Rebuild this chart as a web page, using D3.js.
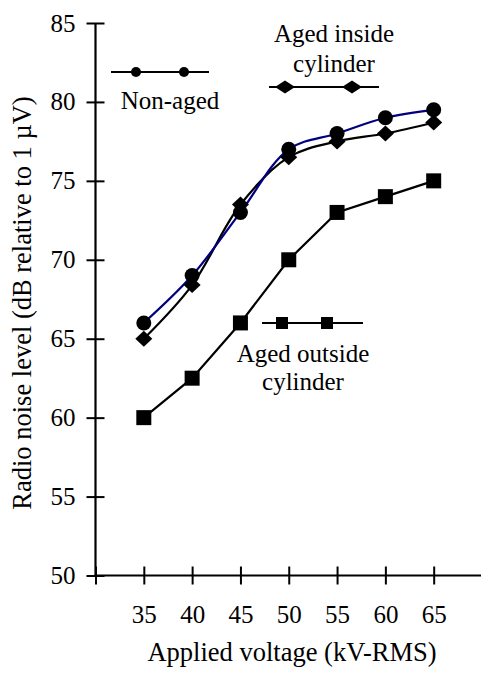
<!DOCTYPE html>
<html>
<head>
<meta charset="utf-8">
<script src="https://cdn.jsdelivr.net/npm/d3@7"></script>
<style>
  html, body { margin: 0; padding: 0; background: #fff; }
</style>
</head>
<body>
<svg id="chart"></svg>
<script>
let WIDTH = 481;
let HEIGHT = 675;
let FONT = "'Liberation Serif', 'Times New Roman', Times, 'DejaVu Serif', serif";

// applied voltage, kV-RMS
let voltage = [35, 40, 45, 50, 55, 60, 65];
// radio noise level, dB relative to 1 uV
let nonAged = [66, 69, 73, 77, 78, 79, 79.5];
let agedInside = [65, 68.4, 73.5, 76.5, 77.5, 78, 78.7];
let agedOutside = [60, 62.5, 66, 70, 73, 74, 75];

let xTicks = [30, 35, 40, 45, 50, 55, 60, 65, 70];
let xLabels = [35, 40, 45, 50, 55, 60, 65];
let yTicks = [50, 55, 60, 65, 70, 75, 80, 85];

let svg = d3.select('#chart')
  .attr('width', WIDTH)
  .attr('height', HEIGHT)
  .style('font-family', FONT);

let xScale = d3.scaleLinear().domain([30, 70]).range([95.5, 482]);
let yScale = d3.scaleLinear().domain([50, 85]).range([575.5, 23]);

// axes, ticks cross the line on both sides
let leftAxis = d3.axisLeft(yScale)
  .tickValues(yTicks)
  .tickSizeInner(9)
  .tickSizeOuter(0)
  .tickPadding(11);

let gy = svg.append('g')
  .attr('transform', 'translate(' + xScale(30) + ',0)')
  .call(leftAxis)
  .attr('font-family', null)
  .attr('font-size', null);
gy.select('.domain').remove();
gy.selectAll('.tick line').attr('x1', 9).attr('x2', -9).attr('stroke', '#000').attr('stroke-width', 2);
gy.selectAll('.tick text').style('font-family', FONT).style('font-size', '25px').attr('fill', '#000');

let bottomAxis = d3.axisBottom(xScale)
  .tickValues(xTicks)
  .tickSizeInner(9)
  .tickSizeOuter(0)
  .tickPadding(21)
  .tickFormat(function (d) { return xLabels.indexOf(d) >= 0 ? d : ''; });

let gx = svg.append('g')
  .attr('transform', 'translate(0,' + yScale(50) + ')')
  .call(bottomAxis)
  .attr('font-family', null)
  .attr('font-size', null);
gx.select('.domain').remove();
gx.selectAll('.tick line').attr('y1', -9).attr('y2', 9).attr('stroke', '#000').attr('stroke-width', 2);
gx.selectAll('.tick text').style('font-family', FONT).style('font-size', '25px').attr('fill', '#000');

svg.append('line')
  .attr('x1', xScale(30)).attr('x2', xScale(30))
  .attr('y1', yScale(85)).attr('y2', yScale(50) + 1)
  .attr('stroke', '#000').attr('stroke-width', 2.2);
svg.append('line')
  .attr('x1', xScale(30) - 1).attr('x2', xScale(70))
  .attr('y1', yScale(50)).attr('y2', yScale(50))
  .attr('stroke', '#000').attr('stroke-width', 2.2);

// axis titles
svg.append('text')
  .attr('x', 292)
  .attr('y', 661)
  .attr('text-anchor', 'middle')
  .style('font-family', FONT)
  .style('font-size', '26.5px')
  .text('Applied voltage (kV-RMS)');

svg.append('text')
  .attr('transform', 'translate(31,303) rotate(-90)')
  .attr('text-anchor', 'middle')
  .style('font-family', FONT)
  .style('font-size', '26.5px')
  .text('Radio noise level (dB relative to 1 \u00b5V)');

// series
let pts = function (vals) {
  return voltage.map(function (v, i) { return [v, vals[i]]; });
};

let smooth = d3.line()
  .x(function (d) { return xScale(d[0]); })
  .y(function (d) { return yScale(d[1]); })
  .curve(d3.curveCatmullRom.alpha(0.5));

let straight = d3.line()
  .x(function (d) { return xScale(d[0]); })
  .y(function (d) { return yScale(d[1]); });

svg.append('path')
  .attr('d', straight(pts(agedOutside)))
  .attr('fill', 'none').attr('stroke', '#000').attr('stroke-width', 2.2);
svg.append('path')
  .attr('d', smooth(pts(agedInside)))
  .attr('fill', 'none').attr('stroke', '#000').attr('stroke-width', 2.2);
svg.append('path')
  .attr('d', smooth(pts(nonAged)))
  .attr('fill', 'none').attr('stroke', '#000080').attr('stroke-width', 2.2);

let diamond = function (w, h) {
  return 'M0,' + (-h / 2) + 'L' + (w / 2) + ',0L0,' + (h / 2) + 'L' + (-w / 2) + ',0Z';
};

svg.append('g').selectAll('rect')
  .data(pts(agedOutside))
  .enter().append('rect')
    .attr('x', function (d) { return xScale(d[0]) - 7.5; })
    .attr('y', function (d) { return yScale(d[1]) - 7.5; })
    .attr('width', 15).attr('height', 15)
    .attr('fill', '#000');

svg.append('g').selectAll('path')
  .data(pts(agedInside))
  .enter().append('path')
    .attr('d', diamond(17, 16))
    .attr('transform', function (d) { return 'translate(' + xScale(d[0]) + ',' + yScale(d[1]) + ')'; })
    .attr('fill', '#000');

svg.append('g').selectAll('circle')
  .data(pts(nonAged))
  .enter().append('circle')
    .attr('cx', function (d) { return xScale(d[0]); })
    .attr('cy', function (d) { return yScale(d[1]); })
    .attr('r', 7.5)
    .attr('fill', '#000');

// legend labels (placed in the plot like the original)
let legend = svg.append('g');

let label = function (x, y, s) {
  legend.append('text')
    .attr('x', x).attr('y', y)
    .attr('text-anchor', 'middle')
    .style('font-family', FONT)
    .style('font-size', '25px')
    .text(s);
};

legend.append('line')
  .attr('x1', 111).attr('x2', 209).attr('y1', 72).attr('y2', 72)
  .attr('stroke', '#000').attr('stroke-width', 2);
[136, 184].forEach(function (cx) {
  legend.append('circle').attr('cx', cx).attr('cy', 72).attr('r', 5).attr('fill', '#000');
});
label(170, 109, 'Non-aged');

legend.append('line')
  .attr('x1', 269).attr('x2', 379).attr('y1', 87).attr('y2', 87)
  .attr('stroke', '#000').attr('stroke-width', 2);
[285, 352].forEach(function (cx) {
  legend.append('path').attr('d', diamond(20, 13))
    .attr('transform', 'translate(' + cx + ',87)').attr('fill', '#000');
});
label(334, 42, 'Aged inside');
label(334, 72, 'cylinder');

legend.append('line')
  .attr('x1', 262).attr('x2', 363).attr('y1', 323).attr('y2', 323)
  .attr('stroke', '#000').attr('stroke-width', 2);
[282, 327].forEach(function (cx) {
  legend.append('rect').attr('x', cx - 6).attr('y', 317).attr('width', 12).attr('height', 12).attr('fill', '#000');
});
label(303, 362, 'Aged outside');
label(303, 390, 'cylinder');
</script>
</body>
</html>
